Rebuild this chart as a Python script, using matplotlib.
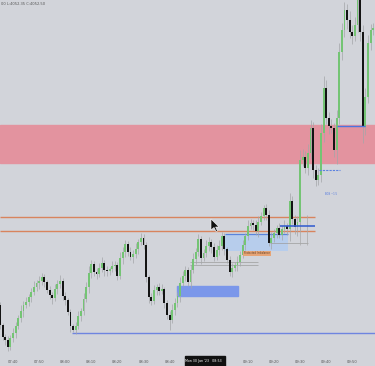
import matplotlib
matplotlib.use("Agg")
import matplotlib.pyplot as plt
from matplotlib.patches import Rectangle, Polygon

# 1-minute candles, minutes counted from 07:40
first_open = 4027.5
closes = [
    4025.5, 4024.3, 4024.0, 4023.3, 4024.2, 4024.7, 4025.4, 4026.2, 4026.9, 4027.5, 4027.8, 4028.3,
    4028.8, 4029.3, 4029.7, 4029.9, 4030.3, 4029.8, 4029.0, 4028.5, 4028.2, 4029.1, 4029.6, 4029.9,
    4028.4, 4028.0, 4026.8, 4025.4, 4025.0, 4025.4, 4026.4, 4026.9, 4028.1, 4029.3, 4030.7, 4031.6,
    4030.8, 4030.6, 4031.2, 4031.7, 4031.0, 4030.9, 4031.1, 4031.4, 4031.5, 4030.4, 4032.2, 4032.8,
    4033.6, 4032.8, 4032.3, 4032.6, 4033.1, 4033.8, 4034.2, 4033.5, 4030.3, 4028.3, 4027.9, 4029.0,
    4029.3, 4028.9, 4029.1, 4027.7, 4026.5, 4026.0, 4027.0, 4027.7, 4028.4, 4029.7, 4030.4, 4031.0,
    4029.8, 4031.0, 4032.1, 4032.8, 4034.1, 4032.2, 4032.7, 4033.4, 4033.8, 4033.3, 4032.3, 4033.0,
    4033.4, 4034.4, 4033.1, 4032.0, 4030.8, 4031.2, 4031.5, 4031.8, 4032.5, 4033.5, 4034.4, 4035.4,
    4035.7, 4035.5, 4034.9, 4035.8, 4036.4, 4037.2, 4036.5, 4033.7, 4034.2, 4034.7, 4035.2, 4034.5,
    4035.1, 4035.4, 4035.1, 4037.9, 4036.1, 4035.3, 4035.8, 4042.0, 4042.3, 4041.2, 4042.7, 4045.2,
    4041.0, 4040.0, 4040.5, 4044.7, 4049.2, 4046.2, 4045.4, 4045.2, 4043.0, 4046.2, 4052.8, 4055.0,
    4057.0, 4056.0, 4054.8, 4054.4, 4055.5, 4058.8, 4054.8, 4045.3, 4048.3, 4053.7, 4055.0, 4055.2,
]
wick_up = [
    0.3, 0.2, 0.3, 0.4, 0.3, 0.5, 0.4, 0.3, 0.6, 0.4, 0.5, 0.3,
    0.4, 0.6, 0.3, 0.5, 0.4, 0.3, 0.2, 0.4, 0.3, 0.5, 0.4, 0.6,
    0.3, 0.4, 0.2, 0.3, 0.2, 0.4, 0.5, 0.3, 0.6, 0.5, 0.7, 0.4,
    0.3, 0.4, 0.5, 0.6, 0.3, 0.4, 0.2, 0.5, 0.4, 0.3, 0.6, 0.5,
    0.4, 0.3, 0.5, 0.4, 0.6, 0.3, 0.5, 0.4, 0.3, 0.2, 0.4, 0.5,
    0.3, 0.4, 0.5, 0.2, 0.3, 0.4, 0.6, 0.5, 0.4, 0.6, 0.5, 0.4,
    0.3, 0.5, 0.6, 0.4, 0.5, 0.3, 0.4, 0.6, 0.5, 0.3, 0.4, 0.5,
    0.6, 0.4, 0.3, 0.2, 0.4, 0.5, 0.3, 0.6, 0.4, 0.5, 0.3, 0.6,
    0.4, 0.3, 0.5, 0.6, 0.4, 0.3, 0.4, 0.5, 0.6, 0.4, 0.3, 0.5,
    0.4, 0.6, 0.3, 0.8, 0.5, 0.4, 0.6, 1.0, 0.8, 0.6, 0.9, 0.8,
    0.6, 0.5, 0.7, 0.9, 1.2, 0.8, 0.6, 0.7, 0.5, 0.8, 0.9, 0.7,
    0.8, 0.6, 0.9, 0.7, 0.8, 0.5, 0.6, 0.7, 0.9, 0.8, 0.6, 0.5,
]
wick_dn = [
    0.4, 0.3, 0.5, 0.4, 0.3, 0.4, 0.5, 0.3, 0.4, 0.6, 0.3, 0.4,
    0.5, 0.3, 0.4, 0.6, 0.4, 0.5, 0.3, 0.4, 0.6, 0.3, 0.5, 0.4,
    0.4, 0.5, 0.3, 0.6, 0.2, 0.4, 0.3, 0.5, 0.4, 0.3, 0.6, 0.5,
    0.4, 0.5, 0.3, 0.4, 0.6, 0.5, 0.4, 0.3, 0.5, 0.4, 0.3, 0.6,
    0.5, 0.4, 0.3, 0.6, 0.4, 0.5, 0.3, 0.4, 0.5, 0.6, 0.4, 0.3,
    0.5, 0.4, 0.3, 0.5, 0.4, 1.0, 0.3, 0.5, 0.4, 0.6, 0.3, 0.5,
    0.4, 0.6, 0.3, 0.5, 0.4, 0.6, 0.3, 0.4, 0.5, 0.6, 0.4, 0.3,
    0.5, 0.4, 0.6, 0.3, 0.4, 0.5, 0.3, 0.6, 0.4, 0.3, 0.5, 0.4,
    0.3, 0.5, 0.4, 0.6, 0.3, 0.4, 0.5, 0.3, 0.6, 0.4, 0.5, 0.3,
    0.5, 0.4, 0.6, 1.2, 0.5, 0.7, 0.9, 0.8, 0.6, 0.5, 0.7, 0.6,
    0.8, 0.6, 0.5, 0.7, 0.9, 0.6, 0.8, 0.5, 0.7, 1.4, 0.6, 0.8,
    0.7, 0.9, 0.6, 0.8, 0.5, 0.7, 0.9, 1.6, 0.8, 0.6, 0.7, 0.5,
]
start_minute = -5

tick_minutes = [0, 10, 20, 30, 40, 50, 60, 90, 100, 110, 120, 130]
tick_labels = ["07:40", "07:50", "08:00", "08:10", "08:20", "08:30", "08:40",
               "09:10", "09:20", "09:30", "09:40", "09:50"]
cursor_minute = 73
cursor_label = "Mon 30 Jan '23   08:53"
ohlc_text = "00 L:4052.35 C:4052.50"

# zones / levels (price)
supply_zone = (4041.7, 4045.5)
orange_levels = [4036.3, 4034.9]
low_level = 4024.7

bg = "#d2d4da"
green = "#74c474"
black = "#141414"

fig = plt.figure(figsize=(3.75, 3.66), dpi=100)
fig.patch.set_facecolor(bg)
ax = fig.add_axes([0, 0, 1, 1])
ax.set_facecolor(bg)
ax.set_xlim(-5.0, 138.7)
ax.set_ylim(4021.4, 4058.0)
ax.axis("off")

# supply zone
ax.axhspan(supply_zone[0], supply_zone[1], color="#e3939f", zorder=1)

# levels
for lv in orange_levels:
    ax.hlines(lv, -5, 115.7, color="#d8845e", lw=1.0, zorder=2)
ax.hlines(low_level, 22.6, 138.7, color="#6f85e0", lw=1.0, zorder=2)

# boxes
ax.add_patch(Rectangle((62.8, 4028.4), 23.4, 1.0, color="#7b97ea", zorder=2))
ax.add_patch(Rectangle((81.2, 4032.9), 24.2, 1.7, facecolor="#b7cdec", edgecolor="none", zorder=2))
ax.hlines(4034.6, 81.2, 105.4, color="#5a84dc", lw=0.9, zorder=2)
ax.hlines(4035.4, 102.3, 115.7, color="#3a62d0", lw=1.2, zorder=4)
ax.hlines(4045.4, 124.1, 134.9, color="#4b74e0", lw=1.0, zorder=4)
ax.hlines(4041.0, 117.2, 125.3, color="#5b82e0", lw=0.8, linestyles=(0, (2, 1)), zorder=4)

# gray helper lines
ax.hlines([4031.8, 4031.5], 67.8, 93.9, color="#9c9c9c", lw=0.5, zorder=2)
ax.hlines(4033.7, 98.5, 113.0, color="#9c9c9c", lw=0.5, zorder=2)
ax.vlines([110.0, 112.5], 4033.5, 4036.5, color="#a8a8a8", lw=0.5, zorder=2)

ax.text(119.5, 4038.5, "BOS ~1.5", fontsize=1.8, color="#4b74e0", zorder=5)
ax.text(93.6, 4032.65, "Protected Imbalance", fontsize=1.8, color="#5a3a20",
        ha="center", va="center", zorder=5,
        bbox=dict(boxstyle="square,pad=0.35", facecolor="#e6a476", edgecolor="none"))

# candles
opens = [first_open] + closes[:-1]
for i, c in enumerate(closes):
    t = start_minute + i
    o = opens[i]
    hi = max(o, c) + wick_up[i]
    lo = min(o, c) - wick_dn[i]
    col = green if c >= o else black
    ax.vlines(t, lo, hi, color="#a3a6a8", lw=0.5, zorder=3)
    ax.bar(t, max(abs(c - o), 0.12), bottom=min(o, c), width=0.72, color=col, zorder=3)

# time axis labels
for m, lab in zip(tick_minutes, tick_labels):
    ax.text(m, 4021.8, lab, fontsize=2.6, color="#555555", ha="center", va="center")
ax.add_patch(Rectangle((65.9, 4021.4), 15.3, 1.0, color="#111111", zorder=6))
ax.text(cursor_minute, 4021.9, cursor_label, fontsize=2.3, color="white",
        ha="center", va="center", zorder=7)

# ohlc header (left part is cut off in the screenshot)
ax.text(1 / 375, 1 - 4 / 366, ohlc_text, transform=ax.transAxes, fontsize=2.6,
        color="#555555", ha="left", va="center")

# mouse pointer
tip = (211, 219)
shape = [(0, 0), (0, 11), (3, 8.5), (5, 12.5), (6.5, 12), (4.6, 8), (8, 8)]
pts = [((tip[0] + dx) / 375, 1 - (tip[1] + dy) / 366) for dx, dy in shape]
ax.add_patch(Polygon(pts, closed=True, facecolor="#111111", edgecolor="white",
                     lw=0.4, transform=ax.transAxes, zorder=8))

fig.savefig("out.png", dpi=100, facecolor=bg)
